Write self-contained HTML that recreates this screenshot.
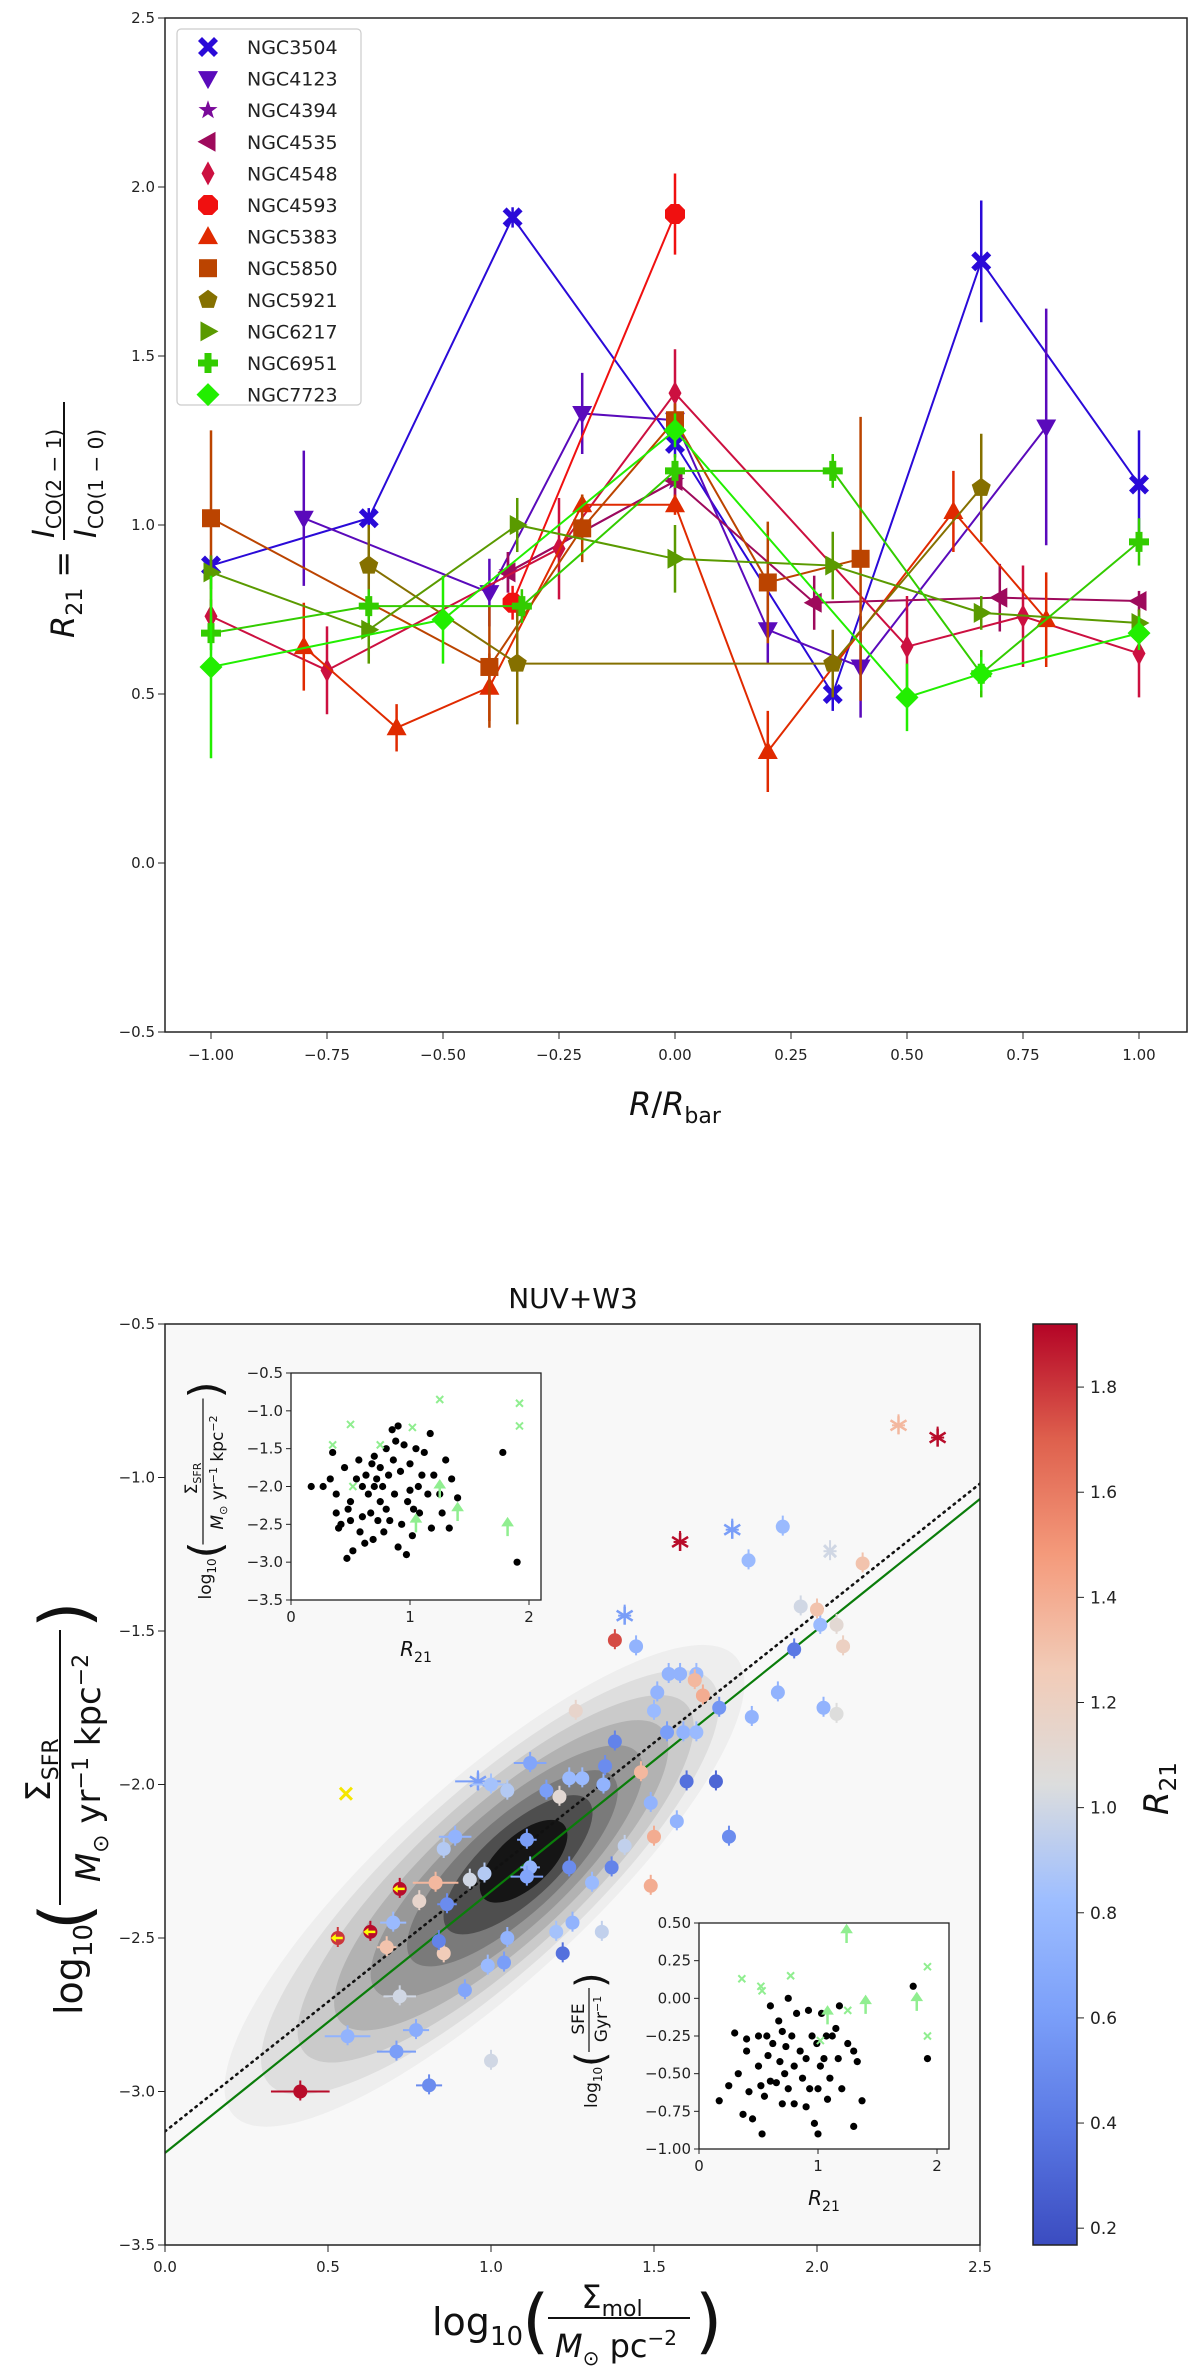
<!DOCTYPE html>
<html><head><meta charset="utf-8"><style>
body{margin:0;background:#fff;}
svg{display:block;font-family:"DejaVu Sans","Liberation Sans",sans-serif;}
</style></head><body>
<svg id="fig" width="1200" height="2366" viewBox="0 0 1200 2366" xmlns="http://www.w3.org/2000/svg">
<defs>
<linearGradient id="cw" x1="0" y1="1" x2="0" y2="0">
<stop offset="0" stop-color="#3b4cc0"/><stop offset="0.125" stop-color="#5977e3"/><stop offset="0.25" stop-color="#7b9ff9"/><stop offset="0.375" stop-color="#9ebeff"/><stop offset="0.5" stop-color="#dcdddd"/><stop offset="0.625" stop-color="#f2cbb7"/><stop offset="0.75" stop-color="#f49a7b"/><stop offset="0.875" stop-color="#de604d"/><stop offset="1" stop-color="#b40426"/>
</linearGradient>
<clipPath id="clipB"><rect x="165" y="1324" width="815" height="921"/></clipPath>
</defs>
<g id="topChart"></g>
<g id="botChart"></g>
</svg>
<script>
// ---------- Top chart data ----------
const galaxyNames=["NGC3504","NGC4123","NGC4394","NGC4535","NGC4548","NGC4593","NGC5383","NGC5850","NGC5921","NGC6217","NGC6951","NGC7723"];
const galaxyColors=["#2a0ad8","#5a0abb","#7a0a9a","#9e0a5c","#cc1040","#f01010","#e02a00","#bb4400","#857000","#5a9a00","#33cc00","#22ee00"];
const galaxyMarkers=["x","v","star","<","d","o","^","s","p",">","+","D"];
const ngc3504X=[-1,-0.66,-0.35,0,0.34,0.66,1], ngc3504Y=[0.88,1.02,1.91,1.24,0.50,1.78,1.12], ngc3504E=[0.03,0.03,0.03,0.04,0.05,0.18,0.16];
const ngc4123X=[-0.8,-0.4,-0.2,0,0.2,0.4,0.8], ngc4123Y=[1.02,0.80,1.33,1.31,0.69,0.58,1.29], ngc4123E=[0.2,0.1,0.12,0.05,0.1,0.15,0.35];
const ngc4394X=[-0.36,0], ngc4394Y=[0.86,1.13], ngc4394E=[0.06,0.05];
const ngc4535X=[-0.36,0,0.3,0.7,1], ngc4535Y=[0.86,1.13,0.77,0.785,0.775], ngc4535E=[0.06,0.05,0.08,0.1,0.03];
const ngc4548X=[-1,-0.75,-0.25,0,0.5,0.75,1], ngc4548Y=[0.73,0.57,0.93,1.39,0.64,0.73,0.62], ngc4548E=[0.05,0.13,0.15,0.13,0.15,0.15,0.13];
const ngc4593X=[-0.35,0], ngc4593Y=[0.77,1.92], ngc4593E=[0.05,0.12];
const ngc5383X=[-0.8,-0.6,-0.4,-0.2,0,0.2,0.6,0.8], ngc5383Y=[0.64,0.40,0.52,1.06,1.06,0.33,1.04,0.72], ngc5383E=[0.13,0.07,0.1,0.03,0.03,0.12,0.12,0.14];
const ngc5850X=[-1,-0.4,-0.2,0,0.2,0.4], ngc5850Y=[1.02,0.58,0.99,1.31,0.83,0.90], ngc5850E=[0.26,0.18,0.1,0.05,0.18,0.42];
const ngc5921X=[-0.66,-0.34,0.34,0.66], ngc5921Y=[0.88,0.59,0.59,1.11], ngc5921E=[0.12,0.18,0.1,0.16];
const ngc6217X=[-1,-0.66,-0.34,0,0.34,0.66,1], ngc6217Y=[0.86,0.69,1.0,0.90,0.88,0.74,0.71], ngc6217E=[0.05,0.1,0.08,0.1,0.1,0.05,0.04];
const ngc6951X=[-1,-0.66,-0.33,0,0.34,0.66,1], ngc6951Y=[0.68,0.76,0.76,1.16,1.16,0.56,0.95], ngc6951E=[0.05,0.05,0.05,0.05,0.05,0.07,0.07];
const ngc7723X=[-1,-0.5,0,0.5,0.66,1], ngc7723Y=[0.58,0.72,1.28,0.49,0.56,0.68], ngc7723E=[0.27,0.13,0.05,0.1,0.05,0.05];
const topXTicks=[-1,-0.75,-0.5,-0.25,0,0.25,0.5,0.75,1], topXTickLabels=["−1.00","−0.75","−0.50","−0.25","0.00","0.25","0.50","0.75","1.00"];
const topYTicks=[-0.5,0,0.5,1,1.5,2,2.5], topYTickLabels=["−0.5","0.0","0.5","1.0","1.5","2.0","2.5"];

// ---------- Bottom chart data ----------
const molX=[0.415,0.53,0.555,0.63,0.72,0.56,0.71,0.77,0.81,0.72,0.68,0.70,0.78,0.83,0.855,0.84,0.865,0.855,0.89,0.935,0.98,0.96,1.0,1.05,1.12,1.17,1.21,1.11,1.12,1.11,1.24,1.31,1.05,0.99,1.04,0.92,1.0,1.2,1.25,1.22,1.34,1.24,1.28,1.26,1.345,1.35,1.38,1.37,1.41,1.46,1.49,1.50,1.49,1.50,1.51,1.54,1.545,1.58,1.59,1.63,1.63,1.625,1.65,1.57,1.60,1.69,1.70,1.73,1.80,1.88,1.93,2.02,2.01,2.06,2.08,2.06,1.95,2.0,2.14,1.38,1.445,1.41,1.79,1.895,1.74,1.58,2.04,2.25,2.37];
const sfrY=[-3.0,-2.5,-2.03,-2.48,-2.34,-2.82,-2.87,-2.80,-2.98,-2.69,-2.53,-2.45,-2.38,-2.32,-2.55,-2.51,-2.39,-2.21,-2.17,-2.31,-2.29,-1.99,-2.0,-2.02,-1.93,-2.02,-2.04,-2.18,-2.27,-2.30,-2.27,-2.32,-2.50,-2.59,-2.58,-2.67,-2.90,-2.48,-2.45,-2.55,-2.48,-1.98,-1.98,-1.76,-2.0,-1.94,-1.86,-2.27,-2.20,-1.96,-2.06,-2.17,-2.33,-1.76,-1.70,-1.83,-1.64,-1.64,-1.83,-1.83,-1.64,-1.66,-1.71,-2.12,-1.99,-1.99,-1.75,-2.17,-1.78,-1.70,-1.56,-1.75,-1.48,-1.48,-1.55,-1.77,-1.42,-1.43,-1.28,-1.53,-1.55,-1.45,-1.27,-1.16,-1.17,-1.21,-1.24,-0.83,-0.87];
const r21Val=[1.9,1.8,1.9,1.9,1.9,0.75,0.6,0.7,0.5,1.0,1.3,0.8,1.15,1.35,1.25,0.45,0.5,0.9,0.75,1.0,0.9,0.6,0.85,0.9,0.65,0.6,1.1,0.6,0.75,0.65,0.5,0.8,0.75,0.8,0.6,0.65,1.0,0.85,0.75,0.35,0.95,0.8,0.8,1.15,0.75,0.5,0.45,0.45,0.95,1.35,0.75,1.4,1.4,0.8,0.75,0.6,0.75,0.75,0.75,0.8,0.8,1.35,1.4,0.75,0.35,0.3,0.55,0.5,0.75,0.75,0.4,0.75,0.8,1.1,1.2,1.05,1.0,1.3,1.3,1.75,0.75,0.6,0.8,0.8,0.6,1.9,1.0,1.35,1.9];
const pointKind=["o","ul","yx","ul","ul","o","o","o","o","o","o","o","o","o","o","o","o","o","o","o","o","*","o","o","o","o","o","o","o","o","o","o","o","o","o","o","o","o","o","o","o","o","o","o","o","o","o","o","o","o","o","o","o","o","o","o","o","o","o","o","o","o","o","o","o","o","o","o","o","o","o","o","o","o","o","o","o","o","o","o","o","*","o","o","*","*","x","*","*"];
const xErr=[0.09,0.02,0,0.02,0.02,0.07,0.06,0.04,0.04,0.05,0.03,0.04,0.02,0.07,0.02,0.02,0.03,0.02,0.05,0.02,0.02,0.07,0.06,0.02,0.05,0.02,0.02,0.03,0.03,0.05,0.02,0.02,0.02,0.02,0.02,0.02,0.02,0.02,0.02,0.02,0.02,0.02,0.02,0.02,0.02,0.02,0.02,0.02,0.02,0.02,0.02,0.02,0.02,0.02,0.02,0.02,0.02,0.02,0.02,0.02,0.02,0.02,0.02,0.02,0.02,0.02,0.02,0.02,0.02,0.02,0.02,0.02,0.02,0.02,0.02,0.02,0.02,0.02,0.02,0.02,0.02,0.02,0.02,0.02,0.02,0.02,0.02,0.02,0.02];
const fitGreenIntercept=-3.2, fitGreenSlope=0.852, fitDotIntercept=-3.13, fitDotSlope=0.844;
const contourLevels=[1,2,3,4,5,6,7,8];
const contourShades=["#eeeeee","#dedede","#cacaca","#b2b2b2","#989898","#7a7a7a","#4e4e4e","#151515"];
const botXTicks=[0,0.5,1,1.5,2,2.5], botXTickLabels=["0.0","0.5","1.0","1.5","2.0","2.5"];
const botYTicks=[-0.5,-1,-1.5,-2,-2.5,-3,-3.5], botYTickLabels=["−0.5","−1.0","−1.5","−2.0","−2.5","−3.0","−3.5"];
const cbarTicks=[0.2,0.4,0.6,0.8,1.0,1.2,1.4,1.6,1.8], cbarTickLabels=["0.2","0.4","0.6","0.8","1.0","1.2","1.4","1.6","1.8"];
// inset 1
const in1R=[0.17,0.27,0.33,0.35,0.38,0.38,0.4,0.42,0.45,0.47,0.48,0.5,0.5,0.52,0.55,0.57,0.58,0.6,0.6,0.62,0.63,0.65,0.67,0.68,0.69,0.7,0.7,0.72,0.73,0.75,0.75,0.77,0.78,0.8,0.8,0.82,0.83,0.85,0.86,0.87,0.88,0.9,0.9,0.92,0.93,0.95,0.97,0.98,1.0,1.0,1.02,1.03,1.05,1.07,1.08,1.1,1.12,1.15,1.17,1.18,1.2,1.25,1.27,1.3,1.33,1.35,1.4,1.78,1.9];
const in1S=[-2.0,-2.0,-1.9,-1.55,-2.1,-2.35,-2.55,-2.5,-1.75,-2.95,-2.3,-2.2,-2.45,-2.85,-1.9,-1.65,-2.6,-2.0,-2.4,-2.75,-1.85,-2.1,-2.35,-1.7,-2.7,-1.6,-2.0,-1.9,-2.45,-1.75,-2.2,-2.0,-2.6,-1.5,-2.3,-1.85,-2.45,-1.25,-1.65,-2.1,-1.4,-1.2,-2.8,-1.8,-2.5,-1.45,-2.9,-2.2,-1.7,-2.05,-2.65,-2.3,-1.5,-2.0,-2.35,-1.85,-1.55,-2.1,-1.3,-2.55,-1.85,-2.1,-2.35,-1.65,-2.55,-1.9,-2.15,-1.55,-3.0];
const in1XR=[0.35,0.5,0.75,1.02,1.25,1.92,1.92,0.52], in1XS=[-1.45,-1.18,-1.45,-1.22,-0.85,-0.9,-1.2,-2.0];
const in1AR=[1.05,1.25,1.4,1.82], in1AS=[-2.5,-2.05,-2.35,-2.55];
// inset 2
const in2R=[0.17,0.25,0.3,0.33,0.37,0.4,0.4,0.42,0.45,0.5,0.5,0.52,0.53,0.55,0.57,0.58,0.6,0.6,0.62,0.65,0.67,0.68,0.7,0.7,0.72,0.73,0.75,0.75,0.78,0.8,0.8,0.82,0.85,0.87,0.9,0.9,0.92,0.93,0.95,0.97,0.99,1.0,1.0,1.02,1.03,1.05,1.07,1.08,1.1,1.12,1.15,1.17,1.18,1.2,1.25,1.3,1.3,1.33,1.37,1.8,1.92];
const in2E=[-0.68,-0.58,-0.23,-0.5,-0.77,-0.27,-0.35,-0.62,-0.8,-0.25,-0.45,-0.58,-0.9,-0.65,-0.25,-0.38,-0.05,-0.55,-0.3,-0.56,-0.15,-0.42,-0.22,-0.7,-0.5,-0.32,0.0,-0.6,-0.25,-0.45,-0.7,-0.1,-0.35,-0.53,-0.4,-0.72,-0.08,-0.6,-0.25,-0.83,-0.3,-0.9,-0.6,-0.45,-0.1,-0.4,-0.25,-0.67,-0.53,-0.25,-0.2,-0.4,-0.05,-0.6,-0.3,-0.35,-0.85,-0.42,-0.68,0.08,-0.4];
const in2XR=[0.36,0.52,0.53,0.77,1.02,1.25,1.92,1.92], in2XE=[0.13,0.08,0.05,0.15,-0.28,-0.08,0.21,-0.25];
const in2AR=[1.08,1.24,1.4,1.83], in2AE=[-0.12,0.42,-0.05,-0.03];

const NS="http://www.w3.org/2000/svg";
function mk(parent,tag,attrs,txt){const e=document.createElementNS(NS,tag);for(const k in attrs)e.setAttribute(k,attrs[k]);if(txt!==undefined)e.textContent=txt;parent.appendChild(e);return e;}

// ===== TOP CHART =====
const topG=document.getElementById('topChart');
const tx=v=>675+v*464, ty=v=>1032-(v+0.5)*338;
let fr=mk(topG,'rect',{x:165,y:18,width:1022,height:1014,fill:'#fff',stroke:'#222','stroke-width':1.5});


topXTicks.forEach((v,i)=>{mk(topG,'line',{x1:tx(v),x2:tx(v),y1:1032,y2:1039,stroke:'#222'});
 const t=mk(topG,'text',{x:tx(v),y:1060,'font-size':15,'text-anchor':'middle',fill:'#222'},topXTickLabels[i]);
 
 });
topYTicks.forEach((v,i)=>{mk(topG,'line',{x1:158,x2:165,y1:ty(v),y2:ty(v),stroke:'#222'});
 const t=mk(topG,'text',{x:155,y:ty(v)+5,'font-size':15,'text-anchor':'end',fill:'#222'},topYTickLabels[i]);
 
 });
let xl=mk(topG,'text',{x:675,y:1115,'font-size':32,'text-anchor':'middle',fill:'#111'});
xl.innerHTML='<tspan font-style="italic">R</tspan>/<tspan font-style="italic">R</tspan><tspan font-size="22" dy="8">bar</tspan>';


let yl=mk(topG,'g',{transform:'translate(62,520) rotate(-90)'});


mk(yl,'text',{x:-118,y:12,'font-size':32,'font-style':'italic',fill:'#111'}).innerHTML='R<tspan font-size="22" dy="8" font-style="normal">21</tspan><tspan dy="-8" font-style="normal"> =</tspan>';
mk(yl,'text',{x:-18,y:-8,'font-size':30,fill:'#111'}).innerHTML='<tspan font-style="italic">I</tspan><tspan font-size="20" dy="7">CO(2 − 1)</tspan>';
mk(yl,'line',{x1:-20,x2:118,y1:2,y2:2,stroke:'#111','stroke-width':2});
mk(yl,'text',{x:-18,y:34,'font-size':30,fill:'#111'}).innerHTML='<tspan font-style="italic">I</tspan><tspan font-size="20" dy="7">CO(1 − 0)</tspan>';

function marker(g,type,cx,cy,col,s){
 let e;
 const P=pts=>pts.map(p=>(cx+p[0]*s)+','+(cy+p[1]*s)).join(' ');
 if(type==='o'){e=mk(g,'polygon',{points:P([[-0.42,-1],[0.42,-1],[1,-0.42],[1,0.42],[0.42,1],[-0.42,1],[-1,0.42],[-1,-0.42]]),fill:col});}
 else if(type==='s'){e=mk(g,'rect',{x:cx-s*0.9,y:cy-s*0.9,width:s*1.8,height:s*1.8,fill:col});}
 else if(type==='^'){e=mk(g,'polygon',{points:P([[0,-1.05],[1,0.75],[-1,0.75]]),fill:col});}
 else if(type==='v'){e=mk(g,'polygon',{points:P([[0,1.05],[1,-0.75],[-1,-0.75]]),fill:col});}
 else if(type==='<'){e=mk(g,'polygon',{points:P([[-1.05,0],[0.75,-1],[0.75,1]]),fill:col});}
 else if(type==='>'){e=mk(g,'polygon',{points:P([[1.05,0],[-0.75,-1],[-0.75,1]]),fill:col});}
 else if(type==='d'){e=mk(g,'polygon',{points:P([[0,-1.2],[0.65,0],[0,1.2],[-0.65,0]]),fill:col});}
 else if(type==='D'){e=mk(g,'polygon',{points:P([[0,-1.15],[1.15,0],[0,1.15],[-1.15,0]]),fill:col});}
 else if(type==='p'){const q=[];for(let k=0;k<5;k++){const a=-Math.PI/2+k*2*Math.PI/5;q.push([Math.cos(a),Math.sin(a)]);}e=mk(g,'polygon',{points:P(q),fill:col});}
 else if(type==='star'){const q=[];for(let k=0;k<10;k++){const a=-Math.PI/2+k*Math.PI/5,r=k%2?0.4:1;q.push([r*Math.cos(a),r*Math.sin(a)]);}e=mk(g,'polygon',{points:P(q),fill:col});}
 else if(type==='+'){e=mk(g,'polygon',{points:P([[-0.35,-1],[0.35,-1],[0.35,-0.35],[1,-0.35],[1,0.35],[0.35,0.35],[0.35,1],[-0.35,1],[-0.35,0.35],[-1,0.35],[-1,-0.35],[-0.35,-0.35]]),fill:col});}
 else if(type==='x'){e=mk(g,'polygon',{points:P([[-0.6,-1],[0,-0.4],[0.6,-1],[1,-0.6],[0.4,0],[1,0.6],[0.6,1],[0,0.4],[-0.6,1],[-1,0.6],[-0.4,0],[-1,-0.6]]),fill:col});}
 return e;
}
const seriesX=[ngc3504X,ngc4123X,ngc4394X,ngc4535X,ngc4548X,ngc4593X,ngc5383X,ngc5850X,ngc5921X,ngc6217X,ngc6951X,ngc7723X];
const seriesY=[ngc3504Y,ngc4123Y,ngc4394Y,ngc4535Y,ngc4548Y,ngc4593Y,ngc5383Y,ngc5850Y,ngc5921Y,ngc6217Y,ngc6951Y,ngc7723Y];
const seriesE=[ngc3504E,ngc4123E,ngc4394E,ngc4535E,ngc4548E,ngc4593E,ngc5383E,ngc5850E,ngc5921E,ngc6217E,ngc6951E,ngc7723E];
galaxyNames.forEach((nm,i)=>{
 const g=mk(topG,'g',{});
 
 
 const col=galaxyColors[i],X=seriesX[i],Y=seriesY[i],E=seriesE[i];
 mk(g,'polyline',{points:X.map((x,j)=>tx(x)+','+ty(Y[j])).join(' '),fill:'none',stroke:col,'stroke-width':2});
 X.forEach((x,j)=>{mk(g,'line',{x1:tx(x),x2:tx(x),y1:ty(Y[j]-E[j]),y2:ty(Y[j]+E[j]),stroke:col,'stroke-width':2.5});});
 X.forEach((x,j)=>{const m=marker(g,galaxyMarkers[i],tx(x),ty(Y[j]),col,10);
  
  });
});
const lg=mk(topG,'g',{});


mk(lg,'rect',{x:177,y:29,width:184,height:376,rx:4,fill:'#fff',stroke:'#ccc','stroke-width':1.2});
galaxyNames.forEach((nm,i)=>{
 const y=47+i*31.6;
 const e=mk(lg,'g',{});
 
 
 marker(e,galaxyMarkers[i],208,y,galaxyColors[i],10);
 mk(e,'text',{x:247,y:y+7,'font-size':19,fill:'#222'},nm);
});

// ===== BOTTOM CHART =====
const botG=document.getElementById('botChart');
const bx=v=>165+v*326, by=v=>1324+(-0.5-v)*307;
const vmin=0.168,vmax=1.92;
const cmapStops=[[59,76,192],[89,119,227],[123,159,249],[158,190,255],[220,221,221],[242,203,183],[244,154,123],[222,96,77],[180,4,38]];
function cmap(v){let t=(v-vmin)/(vmax-vmin);t=Math.max(0,Math.min(1,t));const f=t*8,i=Math.min(7,Math.floor(f)),r=f-i;const a=cmapStops[i],b=cmapStops[i+1];return 'rgb('+a.map((c,k)=>Math.round(c+(b[k]-c)*r)).join(',')+')';}
let tt=mk(botG,'text',{x:573,y:1308,'font-size':28,'text-anchor':'middle',fill:'#111'},'NUV+W3');


let bf=mk(botG,'rect',{x:165,y:1324,width:815,height:921,fill:'#f8f8f8'});


const cg=mk(botG,'g',{'clip-path':'url(#clipB)'});


const ang=-Math.atan(0.97*307/326)*180/Math.PI;
contourLevels.forEach((lv,i)=>{
 const t=i/7;
 const cxD=0.98+0.12*t, cyD=-2.33+0.08*t;
 const rx=340*(1-t*0.84), ry=100*(1-t*0.74);
 const el=mk(cg,'ellipse',{cx:bx(cxD),cy:by(cyD),rx:rx,ry:ry,fill:contourShades[i],transform:'rotate('+ang+' '+bx(cxD)+' '+by(cyD)+')'});
 
 
});
let gl=mk(cg,'line',{x1:bx(0),y1:by(fitGreenIntercept),x2:bx(2.5),y2:by(fitGreenIntercept+fitGreenSlope*2.5),stroke:'#0a7d0a','stroke-width':2.2});


let dl=mk(cg,'line',{x1:bx(0),y1:by(fitDotIntercept),x2:bx(2.5),y2:by(fitDotIntercept+fitDotSlope*2.5),stroke:'#111','stroke-width':2.6,'stroke-dasharray':'1.5 5','stroke-linecap':'round'});


const sg=mk(cg,'g',{});


molX.forEach((x,i)=>{
 const cx=bx(x),cy=by(sfrY[i]),k=pointKind[i]||'o';
 const col=k==='yx'?'#f5e600':cmap(r21Val[i]);
 const ex=(xErr[i]||0)*326;
 if(ex>0)mk(sg,'line',{x1:cx-ex,x2:cx+ex,y1:cy,y2:cy,stroke:col,'stroke-width':2});
 if(k!=='yx')mk(sg,'line',{x1:cx,x2:cx,y1:cy-11,y2:cy+9,stroke:col,'stroke-width':2});
 let m;
 if(k==='o'||k==='ul'){m=mk(sg,'circle',{cx:cx,cy:cy,r:7,fill:col});
  if(k==='ul'){mk(sg,'polygon',{points:(cx-7)+','+cy+' '+(cx-2)+','+(cy-4)+' '+(cx-2)+','+(cy+4),fill:'#ff0'});mk(sg,'line',{x1:cx-3,x2:cx+5,y1:cy,y2:cy,stroke:'#ff0','stroke-width':2.5});}
 } else if(k==='x'||k==='yx'){m=mk(sg,'path',{d:`M${cx-6} ${cy-6}L${cx+6} ${cy+6}M${cx-6} ${cy+6}L${cx+6} ${cy-6}`,stroke:col,'stroke-width':3});}
 else {m=mk(sg,'path',{d:`M${cx} ${cy-9}V${cy+9}M${cx-8} ${cy-5}L${cx+8} ${cy+5}M${cx-8} ${cy+5}L${cx+8} ${cy-5}`,stroke:col,'stroke-width':2.5});}
 
 
});
mk(botG,'rect',{x:165,y:1324,width:815,height:921,fill:'none',stroke:'#222','stroke-width':1.5});
botXTicks.forEach((v,i)=>{mk(botG,'line',{x1:bx(v),x2:bx(v),y1:2245,y2:2252,stroke:'#222'});
 const t=mk(botG,'text',{x:bx(v),y:2272,'font-size':15,'text-anchor':'middle',fill:'#222'},botXTickLabels[i]);
 
 });
botYTicks.forEach((v,i)=>{mk(botG,'line',{x1:158,x2:165,y1:by(v),y2:by(v),stroke:'#222'});
 const t=mk(botG,'text',{x:155,y:by(v)+5,'font-size':15,'text-anchor':'end',fill:'#222'},botYTickLabels[i]);
 
 });
const bxl=mk(botG,'g',{});


mk(bxl,'text',{x:432,y:2335,'font-size':38,fill:'#111'}).innerHTML='log<tspan font-size="26" dy="10">10</tspan>';
mk(bxl,'text',{x:522,y:2345,'font-size':70,fill:'#111'},'(');
mk(bxl,'text',{x:612,y:2308,'font-size':32,'text-anchor':'middle',fill:'#111'}).innerHTML='Σ<tspan font-size="22" dy="8">mol</tspan>';
mk(bxl,'line',{x1:548,x2:690,y1:2318,y2:2318,stroke:'#111','stroke-width':2});
mk(bxl,'text',{x:616,y:2357,'font-size':32,'text-anchor':'middle',fill:'#111'}).innerHTML='<tspan font-style="italic">M</tspan><tspan font-size="20" dy="8">⊙</tspan><tspan dy="-8"> pc</tspan><tspan font-size="20" dy="-12">−2</tspan>';
mk(bxl,'text',{x:695,y:2345,'font-size':70,fill:'#111'},')');
const byl=mk(botG,'g',{transform:'translate(60,1790) rotate(-90)'});


mk(byl,'text',{x:-225,y:22,'font-size':38,fill:'#111'}).innerHTML='log<tspan font-size="26" dy="10">10</tspan>';
mk(byl,'text',{x:-140,y:28,'font-size':68,fill:'#111'},'(');
mk(byl,'text',{x:20,y:-10,'font-size':34,'text-anchor':'middle',fill:'#111'}).innerHTML='Σ<tspan font-size="22" dy="8">SFR</tspan>';
mk(byl,'line',{x1:-115,x2:160,y1:0,y2:0,stroke:'#111','stroke-width':2});
mk(byl,'text',{x:22,y:40,'font-size':34,'text-anchor':'middle',fill:'#111'}).innerHTML='<tspan font-style="italic">M</tspan><tspan font-size="22" dy="8">⊙</tspan><tspan dy="-8"> yr</tspan><tspan font-size="22" dy="-12">−1</tspan><tspan dy="12"> kpc</tspan><tspan font-size="22" dy="-12">−2</tspan>';
mk(byl,'text',{x:162,y:28,'font-size':68,fill:'#111'},')');
const cb=mk(botG,'g',{});


mk(cb,'rect',{x:1033,y:1324,width:44,height:921,fill:'url(#cw)',stroke:'#222','stroke-width':1.5});
const cby=v=>2245-(v-vmin)/(vmax-vmin)*921;
cbarTicks.forEach((v,i)=>{mk(cb,'line',{x1:1077,x2:1084,y1:cby(v),y2:cby(v),stroke:'#222'});
 const t=mk(cb,'text',{x:1090,y:cby(v)+6,'font-size':17,fill:'#222'},cbarTickLabels[i]);
 
 });
const cbl=mk(cb,'text',{x:0,y:0,'font-size':34,'font-style':'italic',fill:'#111',transform:'translate(1168,1815) rotate(-90)'});
cbl.innerHTML='R<tspan font-size="23" dy="8" font-style="normal">21</tspan>';



function inset(name,x0,y0,w,h,xmin,xmax,ymin,ymax,yTicks,yLabels,R,V,XR,XV,AR,AV,ylabFn){
 const g=mk(botG,'g',{});
 
 
 const ix=v=>x0+(v-xmin)/(xmax-xmin)*w, iy=v=>y0+h-(v-ymin)/(ymax-ymin)*h;
 mk(g,'rect',{x:x0,y:y0,width:w,height:h,fill:'#fff',stroke:'#222','stroke-width':1.3});
 [0,1,2].forEach(v=>{mk(g,'line',{x1:ix(v),x2:ix(v),y1:y0+h,y2:y0+h+5,stroke:'#222'});
  const t=mk(g,'text',{x:ix(v),y:y0+h+22,'font-size':15,'text-anchor':'middle',fill:'#222'},String(v));
  
  });
 yTicks.forEach((v,i)=>{mk(g,'line',{x1:x0-5,x2:x0,y1:iy(v),y2:iy(v),stroke:'#222'});
  const t=mk(g,'text',{x:x0-8,y:iy(v)+5,'font-size':15,'text-anchor':'end',fill:'#222'},yLabels[i]);
  
  });
 const xt=mk(g,'text',{x:x0+w/2,y:y0+h+56,'font-size':20,'text-anchor':'middle','font-style':'italic',fill:'#111'});
 xt.innerHTML='R<tspan font-size="14" dy="6" font-style="normal">21</tspan>';
 
 
 R.forEach((r,i)=>{const c=mk(g,'circle',{cx:ix(r),cy:iy(V[i]),r:3.6,fill:'#000'});
  
  });
 XR.forEach((r,i)=>{const cx=ix(r),cy=iy(XV[i]);const c=mk(g,'path',{d:`M${cx-3.5} ${cy-3.5}L${cx+3.5} ${cy+3.5}M${cx-3.5} ${cy+3.5}L${cx+3.5} ${cy-3.5}`,stroke:'#90ee90','stroke-width':2});
  
  });
 AR.forEach((r,i)=>{const cx=ix(r),cy=iy(AV[i]);const c=mk(g,'path',{d:`M${cx} ${cy+8}V${cy-6}M${cx-4} ${cy-3}L${cx} ${cy-9}L${cx+4} ${cy-3}Z`,stroke:'#90ee90','stroke-width':2.5,fill:'#90ee90'});
  
  });
 ylabFn(g,x0,y0,h);
}
inset('inset-sfr-vs-r21',291,1373,250,227,0,250/(529-291)*2,-3.5,-0.5,[-0.5,-1,-1.5,-2,-2.5,-3,-3.5],["−0.5","−1.0","−1.5","−2.0","−2.5","−3.0","−3.5"],in1R,in1S,in1XR,in1XS,in1AR,in1AS,(g,x0,y0,h)=>{
 const t=mk(g,'g',{transform:`translate(${x0-88},${y0+h/2}) rotate(-90)`});
 
 
 mk(t,'text',{x:-113,y:8,'font-size':17,fill:'#111'}).innerHTML='log<tspan font-size="12" dy="5">10</tspan>';
 mk(t,'text',{x:-72,y:17,'font-size':44,fill:'#111'},'(');
 mk(t,'text',{x:8,y:-6,'font-size':17,'text-anchor':'middle',fill:'#111'}).innerHTML='Σ<tspan font-size="11" dy="4">SFR</tspan>';
 mk(t,'line',{x1:-58,x2:88,y1:0,y2:0,stroke:'#111','stroke-width':1.2});
 mk(t,'text',{x:14,y:20,'font-size':17,'text-anchor':'middle',fill:'#111'}).innerHTML='<tspan font-style="italic">M</tspan><tspan font-size="11" dy="4">⊙</tspan><tspan dy="-4"> yr</tspan><tspan font-size="11" dy="-6">−1</tspan><tspan dy="6"> kpc</tspan><tspan font-size="11" dy="-6">−2</tspan>';
 mk(t,'text',{x:88,y:17,'font-size':44,fill:'#111'},')');
});
inset('inset-sfe-vs-r21',699,1923,250,226,0,250/(937-699)*2,-1,0.5,[0.5,0.25,0,-0.25,-0.5,-0.75,-1],["0.50","0.25","0.00","−0.25","−0.50","−0.75","−1.00"],in2R,in2E,in2XR,in2XE,in2AR,in2AE,(g,x0,y0,h)=>{
 const t=mk(g,'g',{transform:`translate(${x0-110},${y0+h/2}) rotate(-90)`});
 
 
 mk(t,'text',{x:-72,y:8,'font-size':17,fill:'#111'}).innerHTML='log<tspan font-size="12" dy="5">10</tspan>';
 mk(t,'text',{x:-31,y:15,'font-size':40,fill:'#111'},'(');
 mk(t,'text',{x:17,y:-5,'font-size':17,'text-anchor':'middle',fill:'#111'},'SFE');
 mk(t,'line',{x1:-16,x2:48,y1:0,y2:0,stroke:'#111','stroke-width':1.2});
 mk(t,'text',{x:17,y:18,'font-size':17,'text-anchor':'middle',fill:'#111'}).innerHTML='Gyr<tspan font-size="11" dy="-6">−1</tspan>';
 mk(t,'text',{x:48,y:15,'font-size':40,fill:'#111'},')');
});
</script>
</body></html>
